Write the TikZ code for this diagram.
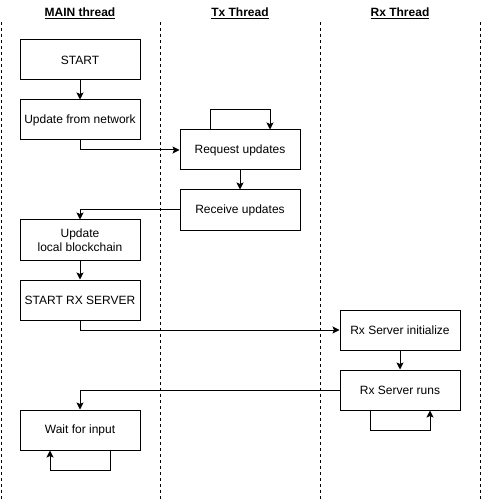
\documentclass[tikz,border=0pt]{standalone}
\usepackage{fontspec}
\setmainfont{Liberation Sans}
\usetikzlibrary{arrows.meta}

\begin{document}
\begin{tikzpicture}[x=1pt,y=-1pt,
    box/.style={draw,line width=1pt,minimum width=120pt,minimum height=40pt,inner sep=0pt,align=center,font=\fontsize{12}{14}\selectfont},
    lane/.style={line width=1pt,dash pattern=on 3pt off 3pt},
    flow/.style={line width=1pt,-{Stealth[length=7pt,width=7pt,inset=1.5pt]}},
    head/.style={font=\bfseries\fontsize{12}{14}\selectfont}]
    \useasboundingbox (0,0) rectangle (482,502);

    % swim lanes
    \foreach \x in {1,160,320,480}
        \draw[lane] (\x,22) -- (\x,502);
    \node[head] (mainhead) at (80,13) {\underline{MAIN thread}};
    \node[head] (txhead) at (240,13) {\underline{Tx Thread}};
    \node[head] (rxhead) at (400,13) {\underline{Rx Thread}};

    % steps
    \node[box] (start) at (80,60) {START};
    \node[box] (net) at (80,120) {Update from network};
    \node[box] (req) at (240,150) {Request updates};
    \node[box] (recv) at (240,210) {Receive updates};
    \node[box] (chain) at (80,240) {Update\\local blockchain};
    \node[box] (rxstart) at (80,300) {START RX SERVER};
    \node[box] (rxinit) at (400,330) {Rx Server initialize};
    \node[box] (rxrun) at (400,390) {Rx Server runs};
    \node[box] (wait) at (80,430) {Wait for input};

    % flow
    \draw[flow] (start) -- (net);
    \draw[flow] (net.south) |- (req.west);
    \draw[flow] ([xshift=-30pt]req.north) -- ++(0,-20) -| ([xshift=30pt]req.north);
    \draw[flow] (req) -- (recv);
    \draw[flow] (recv.west) -| (chain.north);
    \draw[flow] (chain) -- (rxstart);
    \draw[flow] (rxstart.south) |- (rxinit.west);
    \draw[flow] (rxinit) -- (rxrun);
    \draw[flow] (rxrun.west) -| (wait.north);
    \draw[flow] ([xshift=-30pt]rxrun.south) -- ++(0,20) -| ([xshift=30pt]rxrun.south);
    \draw[flow] ([xshift=30pt]wait.south) -- ++(0,20) -| ([xshift=-30pt]wait.south);
\end{tikzpicture}
\end{document}
